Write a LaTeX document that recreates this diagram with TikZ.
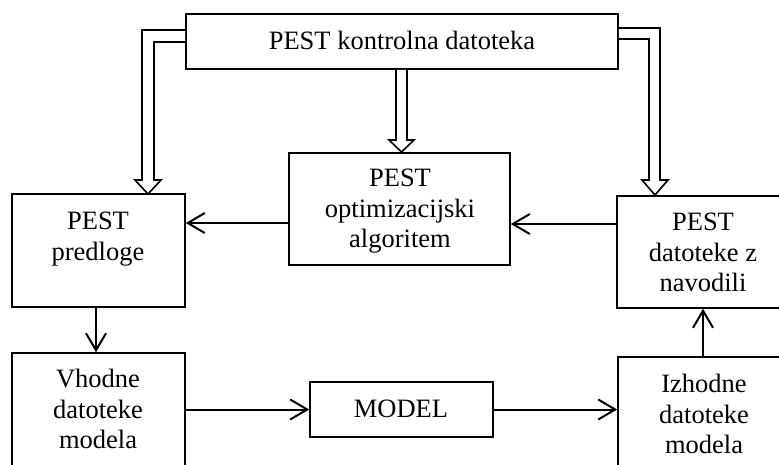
\documentclass[tikz,border=0pt]{standalone}
\usepackage{fontspec}
\setmainfont{Liberation Serif}
\usetikzlibrary{arrows.meta,calc}
\tikzset{
  box/.style={draw,line width=1.6pt,rectangle,inner sep=0pt},
  txt/.style={inner sep=0pt,align=center,anchor=north,font=\fontsize{26.5}{30.5}\selectfont},
  conn/.style={line width=2pt,-{Straight Barb[length=17pt,width=20pt,line width=2pt]}},
  hollow/.style={line width=1.6pt,fill=white,line join=miter}}
\begin{document}
\begin{tikzpicture}[x=1pt,y=-1pt]
\useasboundingbox (0,0) rectangle (779,464);
\clip (0,0) rectangle (779,464);
% boxes
\node[box,minimum width=432pt,minimum height=55pt] (top) at (402,41.5) {};
\node[box,minimum width=173pt,minimum height=113pt] (left) at (98.5,250.5) {};
\node[box,minimum width=221pt,minimum height=112pt] (mid) at (399.5,209) {};
\node[box,minimum width=193pt,minimum height=112pt] (right) at (713.5,252) {};
\node[box,minimum width=173pt,minimum height=127pt] (vhod) at (98.5,416.5) {};
\node[box,minimum width=183pt,minimum height=55pt] (model) at (401.5,409.5) {};
\node[box,minimum width=192pt,minimum height=123pt] (izhod) at (714,418.5) {};
% texts
\node[txt,anchor=base] (ttop) at (402,49) {PEST kontrolna datoteka};
\node[txt] (tleft) at (98,212) {PEST\\predloge};
\node[txt] (tmid) at (400,169) {PEST\\optimizacijski\\algoritem};
\node[txt] (tright) at (703,213) {PEST\\datoteke z\\navodili};
\node[txt] (tvhod) at (98,369) {Vhodne\\datoteke\\modela};
\node[txt,anchor=base] (tmodel) at (401,417) {MODEL};
\node[txt] (tizhod) at (704,374) {Izhodne\\datoteke\\modela};
% simple arrows
\draw[conn] (mid.west |- 0,223) -- (left.east |- 0,223);
\draw[conn] (right.west |- 0,224) -- (mid.east |- 0,224);
\draw[conn] (left.south -| 96,0) -- (vhod.north -| 96,0);
\draw[conn] (vhod.east |- model.west) -- (model.west);
\draw[conn] (model.east) -- (izhod.west |- model.east);
\draw[conn] (izhod.north -| 703,0) -- (right.south -| 703,0);
% hollow block arrows
\draw[hollow] (top.west |- 0,30) -- (142,30) -- (142,180) -- (135,180) -- (148,194)
  -- (161,180) -- (154,180) -- (154,42) -- (top.west |- 0,42);
\draw[hollow] (top.east |- 0,28) -- (660,28) -- (660,180) -- (668,180) -- (655,195)
  -- (642,180) -- (649,180) -- (649,39) -- (top.east |- 0,39);
\draw[hollow] (top.south -| 396,0) -- (396,140) -- (389,140) -- (401.5,152) -- (414,140)
  -- (407,140) -- (top.south -| 407,0);
\end{tikzpicture}
\end{document}
